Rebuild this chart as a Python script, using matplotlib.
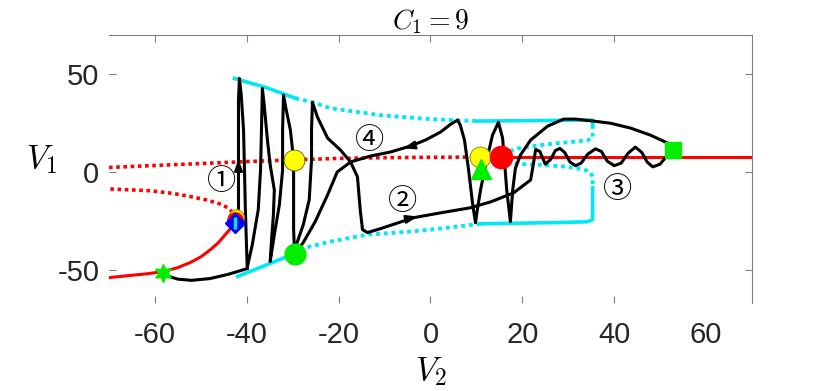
"""
C1=9 のときの V2-V1 平面の軌道と分岐図
"""

import matplotlib
matplotlib.use('Agg')
import matplotlib.pyplot as plt
import numpy as np

plt.rcParams['mathtext.fontset'] = 'cm'

# 平衡点の枝（赤）
red_stable_v2 = [-70, -65.4, -61.5, -58.2, -55.0, -52.3, -50.0, -47.9, -46.2, -44.7, -43.5, -42.5]
red_stable_v1 = [-54, -52.9, -52.0, -50.9, -48.9, -46.3, -43.4, -39.7, -36.2, -32.1, -28.8, -25.4]
red_unst_lo_v2 = [-42.5, -42.9, -44.2, -46.0, -49.0, -52.0, -56.0, -61.0, -70.0]
red_unst_lo_v1 = [-24.0, -21.0, -18.2, -16.2, -14.2, -12.7, -11.0, -9.6, -8.7]
red_unst_up_v2 = [-70, -60, -50, -40, -30, -20, -10, 0, 11, 15.3]
red_unst_up_v1 = [2.3, 3.3, 4.3, 5.3, 6.2, 6.9, 7.3, 7.5, 7.6, 7.6]
red_right_v2 = [15.3, 70]
red_right_v1 = [7.6, 7.6]

# 周期解の最大値・最小値（シアン）
cyan_up_s1_v2 = [-42.7, -36.0, -29.4]
cyan_up_s1_v1 = [47.8, 43.3, 37.7]
cyan_up_d1_v2 = [-29.4, -25.7, -21.8, -10.9, 0.0, 10.2]
cyan_up_d1_v1 = [37.7, 35.6, 32.6, 29.0, 27.0, 26.0]
cyan_up_s2_v2 = [10.2, 35.3, 35.3]
cyan_up_s2_v1 = [26.0, 26.5, 24.0]
cyan_up_d2_v2 = [35.3, 35.3, 34.2, 32.0, 28.0, 24.0, 19.0, 17.0, 15.3]
cyan_up_d2_v1 = [24.0, 17.3, 16.2, 15.6, 14.8, 13.7, 12.0, 10.5, 7.6]
cyan_lo_d1_v2 = [15.3, 17.0, 20.0, 24.0, 29.0, 33.0, 34.8, 35.3, 35.3]
cyan_lo_d1_v1 = [7.6, 4.8, 4.0, 3.6, 2.8, 1.5, 0.0, -2.5, -8.1]
cyan_lo_s1_v2 = [35.3, 35.3, 34.0, 27.0, 10.9]
cyan_lo_s1_v1 = [-8.1, -24.4, -25.5, -25.9, -26.5]
cyan_lo_d2_v2 = [10.9, 0.0, -7.2, -13.7, -21.8, -27.2, -29.6]
cyan_lo_d2_v1 = [-26.5, -29.5, -31.0, -32.0, -35.6, -38.7, -41.7]
cyan_lo_s2_v2 = [-29.6, -36.0, -42.0]
cyan_lo_s2_v1 = [-41.7, -47.8, -53.4]

# 軌道（黒）
traj1_v2 = [-58.2, -56.8, -55.0, -52.0, -48.0, -44.0, -39.9]
traj1_v1 = [-51.4, -53.5, -54.8, -55.4, -54.5, -52.3, -49.4]

traj2_v2 = [-41.8, -41.8, -41.8, -41.8, -41.6, -41.2, -40.7, -40.5, -40.3, -40.1, -39.9,
            -38.8, -37.5, -37.0, -36.8, -36.6,
            -36.2, -35.5, -34.9, -34.0, -34.2, -34.6, -34.9,
            -34.0, -32.9, -32.2, -32.2, -32.0,
            -31.4, -30.5, -29.8, -29.8, -29.8, -29.6,
            -29.2, -27.7, -26.4, -25.9, -25.9, -25.7,
            -24.6, -22.4, -19.6, -17.4, -15.9, -15.3, -14.8, -13.7,
            -10.9, -3.7, 2.2, 8.7, 13.1, 18.1, 21.8,
            22.4, 22.9, 23.8, 25.0, 26.2, 27.2, 28.2, 29.2, 30.4, 31.6, 32.8, 34.2,
            35.9, 37.2, 38.5, 40.0, 41.5, 43.0, 44.6, 46.0, 47.2, 48.4, 50.0, 51.4, 52.7]
traj2_v1 = [-20.9, -4.1, 16.3, 36.6, 47.8, 39.2, 21.4, 1.0, -19.3, -34.6, -48.9,
            -37.2, -19.3, 1.0, 21.4, 42.7,
            34.1, 16.3, 3.6, -9.2, -21.9, -34.6, -45.8,
            -32.1, -16.8, 1.0, 21.4, 39.2,
            31.6, 21.4, 6.1, -14.2, -29.5, -41.7,
            -37.2, -27.0, -14.2, 6.1, 21.4, 35.6,
            28.0, 17.3, 11.2, 5.1, -2.5, -19.3, -29.5, -31.0,
            -29.0, -23.4, -20.9, -18.3, -15.3, -10.7, -4.1,
            4.0, 11.5, 10.5, 4.0, 6.5, 11.0, 12.0, 10.0, 5.0, 3.2, 4.5, 9.0,
            11.8, 10.5, 5.5, 3.2, 4.5, 9.5, 12.7, 10.0, 5.0, 2.6, 4.0, 8.0, 11.2]

traj3_v2 = [52.7, 51.6, 47.9, 43.6, 39.2, 35.5, 31.6, 29.0, 25.5, 21.8, 19.6, 18.5, 17.9, 17.4,
            16.6, 16.1, 15.7, 14.8,
            13.5, 12.0, 10.9, 10.2, 9.8,
            9.2, 8.3, 7.4, 6.5, 5.9,
            4.4, 2.2, -1.1, -4.4, -8.7, -13.1, -17.4, -20.3, -22.4, -25.1, -27.7, -29.6]
traj3_v1 = [11.2, 14.8, 18.8, 22.4, 24.9, 26.0, 27.0, 27.0, 23.4, 16.3, 8.7, 2.0, -9.2, -25.4,
            -9.2, 6.1, 17.3, 25.4,
            18.8, 3.6, -9.2, -19.3, -26.0,
            -16.8, 1.0, 16.3, 23.9, 26.5,
            24.4, 20.4, 16.3, 13.2, 10.2, 8.1, 5.1, 0.0, -11.7, -25.4, -36.1, -41.7]

# 矢印（先端, 根元）
arrow_tips = [(-41.8, 8.0), (-2.2, -22.4), (-6.5, 11.7)]
arrow_tails = [(-41.8, 2.0), (-5.4, -24.2), (-3.3, 13.7)]

# 番号ラベル
num_labels = ['①', '②', '③', '④']
num_v2 = [-45.5, -6.1, 40.7, -13.3]
num_v1 = [-5.1, -15.3, -9.2, 15.8]

fig = plt.figure(figsize=(8.3, 3.91), dpi=100)
ax = fig.add_axes([0.1313, 0.225, 0.7747, 0.6855])

red = '#ff0000'
cyan = '#00e8f8'
dot = (0, (1, 1))

# 赤の枝
ax.plot(red_stable_v2, red_stable_v1, color=red, lw=2.2, zorder=2)
ax.plot(red_unst_lo_v2, red_unst_lo_v1, color=red, lw=2.6, ls=dot, zorder=2)
ax.plot(red_unst_up_v2, red_unst_up_v1, color=red, lw=2.6, ls=dot, zorder=2)
ax.plot(red_right_v2, red_right_v1, color=red, lw=2.2, zorder=2)

# シアンの枝
for v2, v1 in [(cyan_up_s1_v2, cyan_up_s1_v1), (cyan_up_s2_v2, cyan_up_s2_v1),
               (cyan_lo_s1_v2, cyan_lo_s1_v1), (cyan_lo_s2_v2, cyan_lo_s2_v1)]:
    ax.plot(v2, v1, color=cyan, lw=2.6, zorder=2)
for v2, v1 in [(cyan_up_d1_v2, cyan_up_d1_v1), (cyan_up_d2_v2, cyan_up_d2_v1),
               (cyan_lo_d1_v2, cyan_lo_d1_v1), (cyan_lo_d2_v2, cyan_lo_d2_v1)]:
    ax.plot(v2, v1, color=cyan, lw=2.8, ls=dot, zorder=2)

# 黒の軌道
for v2, v1 in [(traj1_v2, traj1_v1), (traj2_v2, traj2_v1), (traj3_v2, traj3_v1)]:
    ax.plot(v2, v1, color='k', lw=2.2, zorder=3, solid_joinstyle='round')

for tip, tail in zip(arrow_tips, arrow_tails):
    ax.annotate('', xy=tip, xytext=tail,
                arrowprops=dict(arrowstyle='-|>,head_length=0.7,head_width=0.25',
                                color='k', lw=1.5), zorder=4)

for s, x, y in zip(num_labels, num_v2, num_v1):
    ax.text(x, y, s, fontsize=21, ha='center', va='center',
            family=['Noto Sans CJK JP', 'DejaVu Sans'], zorder=5)

# マーカー
ax.plot(-58.2, -51.4, marker=(6, 1, 0), ms=13, color='#00ee00', mec='#00ee00', zorder=6)
ax.plot(-42.3, -22.9, 'o', ms=11, mfc='yellow', mec='#c8a000', zorder=6)
ax.plot(-42.5, -24.4, 'o', ms=11, mfc=red, mec=red, zorder=6)
ax.plot(-42.5, -26.0, 'D', ms=10, mfc='#0000ff', mec='#0000ff', zorder=7)
ax.plot(-42.5, -26.0, '|', ms=8, mew=2.5, color=cyan, zorder=8)
ax.plot(-29.8, 6.1, 'o', ms=15, mfc='yellow', mec='#606000', mew=0.6, zorder=6)
ax.plot(-29.6, -41.7, 'o', ms=15, mfc='#00ee00', mec='#00ee00', zorder=6)
ax.plot(10.7, 7.6, 'o', ms=15, mfc='yellow', mec='#808000', mew=0.6, zorder=6)
ax.plot(10.9, 1.5, '^', ms=15, mfc='#00ee00', mec='#00ee00', zorder=7)
ax.plot(15.3, 7.6, 'o', ms=16, mfc=red, mec=red, zorder=7)
ax.plot(52.7, 11.2, 's', ms=11, mfc='#00ee00', mec='#00ee00', zorder=7)

# 軸の設定
ax.set_xlim(-70, 70)
ax.set_ylim(-67, 70)
ax.set_xticks([-60, -40, -20, 0, 20, 40, 60])
ax.set_yticks([-50, 0, 50])
ax.set_xticklabels(['-60', '-40', '-20', '0', '20', '40', '60'])
ax.set_yticklabels(['-50', '0', '50'])
ax.spines['left'].set_visible(False)
ax.spines['bottom'].set_visible(False)
ax.spines['top'].set_color('#808080')
ax.spines['right'].set_color('#808080')
ax.tick_params(direction='in', top=True, right=True, length=5, width=0.8,
               color='#808080', labelcolor='#262626', labelsize=21)
ax.tick_params(axis='x', pad=13)
ax.tick_params(axis='y', pad=7)
for lab in ax.get_xticklabels() + ax.get_yticklabels():
    lab.set_family(['Liberation Sans', 'DejaVu Sans'])
# 60の目盛り線は元の図に無い
last = ax.xaxis.get_major_ticks()[-1]
last.tick1line.set_visible(False)
last.tick2line.set_visible(False)

ax.set_title(r'$C_1=9$', fontsize=20, pad=4)
ax.set_xlabel(r'$V_2$', fontsize=24, va='center')
ax.xaxis.set_label_coords(0.5, -0.255)
ax.set_ylabel(r'$V_1$', fontsize=24, rotation=0, va='center', ha='center')
ax.yaxis.set_label_coords(-0.104, 0.534)

plt.savefig('out.png', dpi=100)
plt.close()
